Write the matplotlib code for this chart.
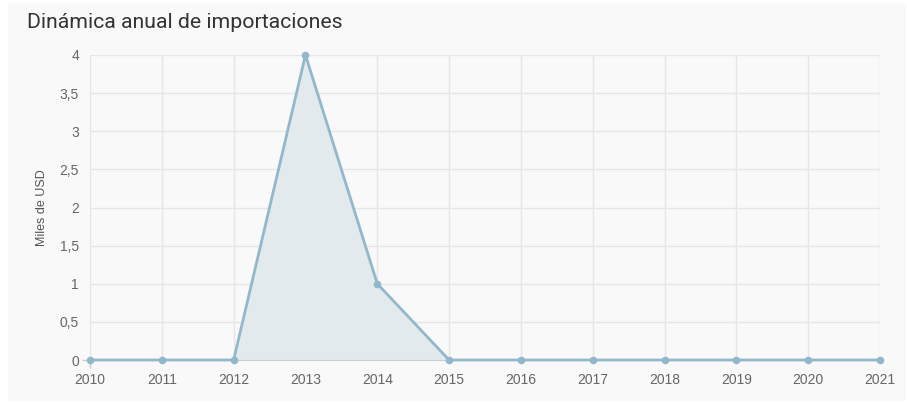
import matplotlib.pyplot as plt
from matplotlib.patches import Rectangle
from matplotlib.ticker import FuncFormatter

plt.rcParams['font.family'] = ['Roboto', 'DejaVu Sans']

years = [2010, 2011, 2012, 2013, 2014, 2015, 2016, 2017, 2018, 2019, 2020, 2021]
values = [0, 0, 0, 4, 1, 0, 0, 0, 0, 0, 0, 0]
y_ticks = [0, 0.5, 1, 1.5, 2, 2.5, 3, 3.5, 4]

W, H = 907, 404
fig = plt.figure(figsize=(W / 100, H / 100), dpi=100)
fig.patch.set_facecolor('white')
fig.patches.append(Rectangle((8 / W, 3 / H), (906 - 8) / W, (401 - 3) / H,
                             transform=fig.transFigure, facecolor='#f9f9f9',
                             edgecolor='none', zorder=-10))

ax = fig.add_axes([90 / W, 1 - 360 / H, (880 - 90) / W, (360 - 55) / H])
ax.patch.set_alpha(0)

line_col = '#93b8cb'
ax.fill_between(years, values, 0, color='#e2eaee', zorder=1)
ax.plot(years, values, color=line_col, lw=2, zorder=3, clip_on=False)
ax.plot(years, values, 'o', color=line_col, ms=4.5, zorder=4, clip_on=False)

ax.set_xlim(2010, 2021)
ax.set_ylim(0, 4)
ax.set_xticks(years)
ax.set_yticks(y_ticks)
ax.yaxis.set_major_formatter(FuncFormatter(lambda v, p: f'{v:g}'.replace('.', ',')))
ax.grid(True, color='#e6e6e6', lw=1)
ax.set_axisbelow(True)
for s in ['top', 'right', 'left']:
    ax.spines[s].set_visible(False)
ax.spines['bottom'].set_color('#cccccc')
ax.tick_params(axis='both', colors='#cccccc', labelcolor='#666666', labelsize=10,
               length=6, width=1)
ax.tick_params(axis='x', pad=3)
ax.tick_params(axis='y', pad=2)
# only the corner ticks are drawn
for i, t in enumerate(ax.xaxis.get_major_ticks()):
    t.tick1line.set_visible(i == 0)
for i, t in enumerate(ax.yaxis.get_major_ticks()):
    t.tick1line.set_visible(i == 0)
for lab in ax.get_xticklabels() + ax.get_yticklabels():
    lab.set_family('Liberation Sans')

ax.set_ylabel('Miles de USD', color='#555555', fontsize=9, labelpad=8,
              family='Liberation Sans')

fig.text(27 / W, 1 - 22 / H, 'Dinámica anual de importaciones', fontsize=15.3,
         color='#333333', va='center', ha='left')

fig.savefig('out.png', dpi=100, facecolor=fig.get_facecolor())
